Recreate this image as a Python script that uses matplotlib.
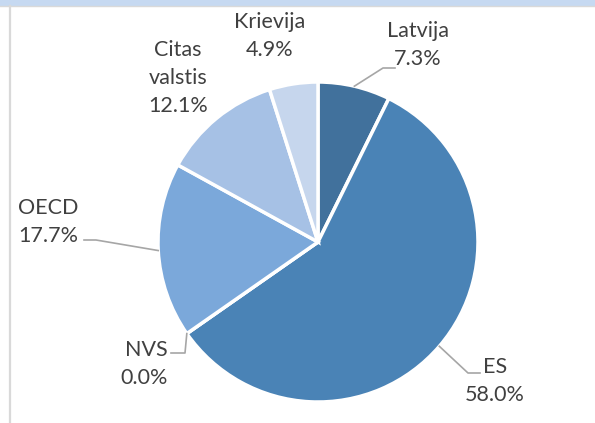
import numpy as np
import matplotlib
matplotlib.use("Agg")
import matplotlib.pyplot as plt
from matplotlib.patches import Rectangle
from matplotlib.lines import Line2D

labels = ["Latvija", "ES", "NVS", "OECD", "Citas\nvalstis", "Krievija"]
values = [7.3, 58.0, 0.0, 17.7, 12.1, 4.9]
colors = ["#41719C", "#4A83B6", "#4A83B6", "#7BA8DA", "#A6C1E5", "#C6D6ED"]

W, H = 595, 423
fig = plt.figure(figsize=(W / 100, H / 100), dpi=100)
fig.patch.set_facecolor("white")

# frame decorations
fig.add_artist(Rectangle((0, 1 - 6 / H), 1, 6 / H, transform=fig.transFigure,
                         facecolor="#C6D9F1", edgecolor="none"))
fig.add_artist(Line2D([0, 1], [1 - 6.5 / H, 1 - 6.5 / H], transform=fig.transFigure,
                      color="#D9D9D9", lw=1))
fig.add_artist(Line2D([9.5 / W, 9.5 / W], [0, 1 - 6 / H], transform=fig.transFigure,
                      color="#D9D9D9", lw=1.6))

cx, cy, R = 318, 242, 160
ax = fig.add_axes([(cx - R) / W, (H - cy - R) / H, 2 * R / W, 2 * R / H])
ax.set_xlim(-1, 1)
ax.set_ylim(-1, 1)
ax.axis("off")

wedges, _ = ax.pie(values, colors=colors, startangle=90, counterclock=False, radius=1,
                   wedgeprops=dict(edgecolor="white", linewidth=2.5))
ax.set_xlim(-1, 1)
ax.set_ylim(-1, 1)


def px(x, y):
    return ((x - cx) / R, (cy - y) / R)


# label layout: (text x px, text y px, ha, leader elbow px, leader end px)
layout = {
    "Latvija": dict(pos=(418, 45), ha="center", leader=[(383, 68), (395, 68)]),
    "ES": dict(pos=(495, 381), ha="center", leader=[(468, 373), (480, 373)]),
    "NVS": dict(pos=(168, 364), ha="right", leader=[(185, 353), (171, 353)]),
    "OECD": dict(pos=(18, 222), ha="left", leader=[(96, 240), (84, 240)]),
    "Citas\nvalstis": dict(pos=(178, 78), ha="center", leader=None),
    "Krievija": dict(pos=(270, 36), ha="center", leader=None),
}

fs = 15.5
cum = 0.0
for lab, v in zip(labels, values):
    mid = 90 - (cum + v / 2) * 3.6
    cum += v
    L = layout[lab]
    tx, ty = px(*L["pos"])
    ax.text(tx, ty, f"{lab}\n{v:.1f}%", ha=L["ha"], va="center", fontsize=fs,
            family=["Lato", "DejaVu Sans"], color="#404040", linespacing=1.5,
            multialignment=L["ha"], clip_on=False)
    if L["leader"]:
        a = np.deg2rad(mid)
        pts = [(np.cos(a), np.sin(a))] + [px(*p) for p in L["leader"]]
        xs, ys = zip(*pts)
        ax.plot(xs, ys, color="#A6A6A6", lw=1.2, clip_on=False)

fig.savefig("out.png", dpi=100, facecolor="white")
